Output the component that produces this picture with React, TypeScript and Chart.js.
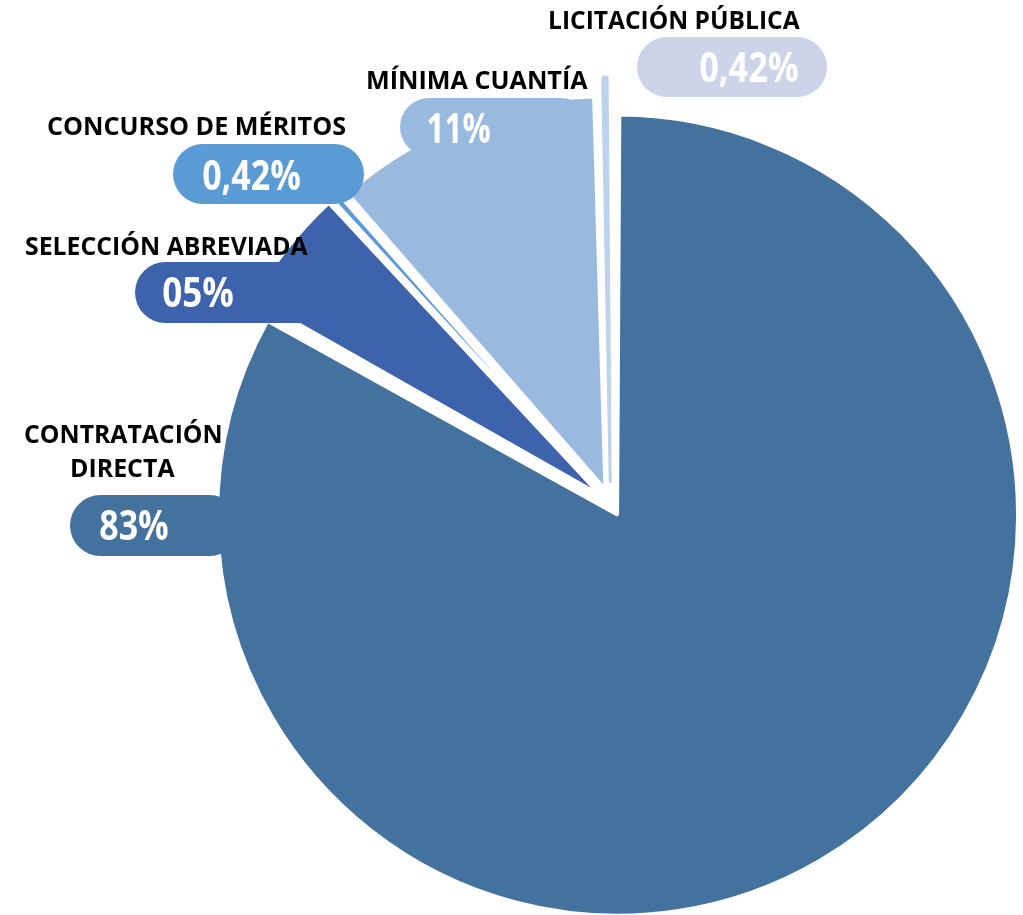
import { useEffect, useRef } from 'react';
import { Chart, registerables } from 'chart.js';

Chart.register(...registerables);

// ---- data ----
const CATEGORIES = [
  'CONTRATACIÓN DIRECTA',
  'SELECCIÓN ABREVIADA',
  'CONCURSO DE MÉRITOS',
  'MÍNIMA CUANTÍA',
  'LICITACIÓN PÚBLICA',
];
const VALUES = [83, 5, 0.42, 11, 0.42];
const VALUE_LABELS = ['83%', '05%', '0,42%', '11%', '0,42%'];

// ---- styles ----
const SLICE_COLORS = ['#43729E', '#3D63AD', '#5B9BD5', '#99B9DF', '#BDD3EC'];
const PILL_COLORS = ['#43729E', '#3D63AD', '#5B9BD5', '#99B9DF', '#CDD4EA'];
const BORDER_COLORS = ['#FFFFFF', '#FFFFFF', '#FFFFFF', '#FFFFFF', '#BDD3EC'];
const OFFSETS = [56, 60, 40, 62, 81];

// ---- label layout (pixels) ----
const NAME_LAYOUT = [
  [
    { x: 25, y: 443, w: 196 },
    { x: 72, y: 477, w: 103 },
  ],
  [{ x: 26, y: 255, w: 282 }],
  [{ x: 48, y: 135, w: 298 }],
  [{ x: 368, y: 89, w: 220 }],
  [{ x: 550, y: 29, w: 250 }],
];
const PILL_LAYOUT = [
  { x: 70, y: 495, w: 170, h: 61, tx: 100, ty: 540, tw: 68 },
  { x: 135, y: 262, w: 195, h: 61, tx: 163, ty: 307, tw: 70 },
  { x: 173, y: 144, w: 191, h: 60, tx: 203, ty: 190, tw: 97 },
  { x: 400, y: 98, w: 190, h: 58, tx: 428, ty: 143, tw: 62 },
  { x: 637, y: 37, w: 190, h: 60, tx: 700, ty: 82, tw: 98 },
];

function drawFitted(
  ctx: CanvasRenderingContext2D,
  text: string,
  x: number,
  y: number,
  w: number,
  font: string,
  color: string
) {
  ctx.font = font;
  ctx.fillStyle = color;
  ctx.textAlign = 'left';
  ctx.textBaseline = 'alphabetic';
  const m = ctx.measureText(text);
  const ink = m.actualBoundingBoxLeft + m.actualBoundingBoxRight;
  const sx = ink > 0 ? w / ink : 1;
  ctx.save();
  ctx.translate(x, y);
  ctx.scale(sx, 1);
  ctx.fillText(text, m.actualBoundingBoxLeft, 0);
  ctx.restore();
}

const labelPlugin = {
  id: 'pillLabels',
  afterDatasetsDraw(chart: any) {
    const ctx: CanvasRenderingContext2D = chart.ctx;
    ctx.save();
    PILL_LAYOUT.forEach((p, i) => {
      ctx.fillStyle = PILL_COLORS[i];
      ctx.beginPath();
      (ctx as any).roundRect(p.x, p.y, p.w, p.h, p.h / 2);
      ctx.fill();
      drawFitted(ctx, VALUE_LABELS[i], p.tx, p.ty, p.tw, 'bold 41px "Open Sans"', '#FFFFFF');
    });
    NAME_LAYOUT.forEach((lines, i) => {
      const words = CATEGORIES[i].split(' ');
      const texts = lines.length === 1 ? [CATEGORIES[i]] : [words[0], words.slice(1).join(' ')];
      lines.forEach((l, j) => {
        drawFitted(ctx, texts[j], l.x, l.y, l.w, 'bold 25.5px "Open Sans"', '#000000');
      });
    });
    ctx.restore();
  },
};

export default function App() {
  const ref = useRef<HTMLCanvasElement | null>(null);

  useEffect(() => {
    if (!ref.current) return;
    const chart = new Chart(ref.current, {
      type: 'pie',
      data: {
        labels: CATEGORIES,
        datasets: [
          {
            data: VALUES,
            backgroundColor: SLICE_COLORS,
            borderColor: BORDER_COLORS,
            borderWidth: 3,
            offset: OFFSETS,
            radius: 386,
          } as any,
        ],
      },
      options: {
        responsive: false,
        animation: false,
        events: [],
        layout: { padding: { left: 198, right: 0, top: 91, bottom: 0 } },
        plugins: {
          legend: { display: false },
          tooltip: { enabled: false },
        },
      },
      plugins: [labelPlugin],
    });
    return () => chart.destroy();
  }, []);

  return (
    <div
      style={{
        position: 'absolute',
        left: 0,
        top: 0,
        width: 1023,
        height: 915,
        overflow: 'hidden',
        background: '#FFFFFF',
      }}
    >
      <canvas ref={ref} width={1023} height={915} style={{ display: 'block' }} />
    </div>
  );
}
